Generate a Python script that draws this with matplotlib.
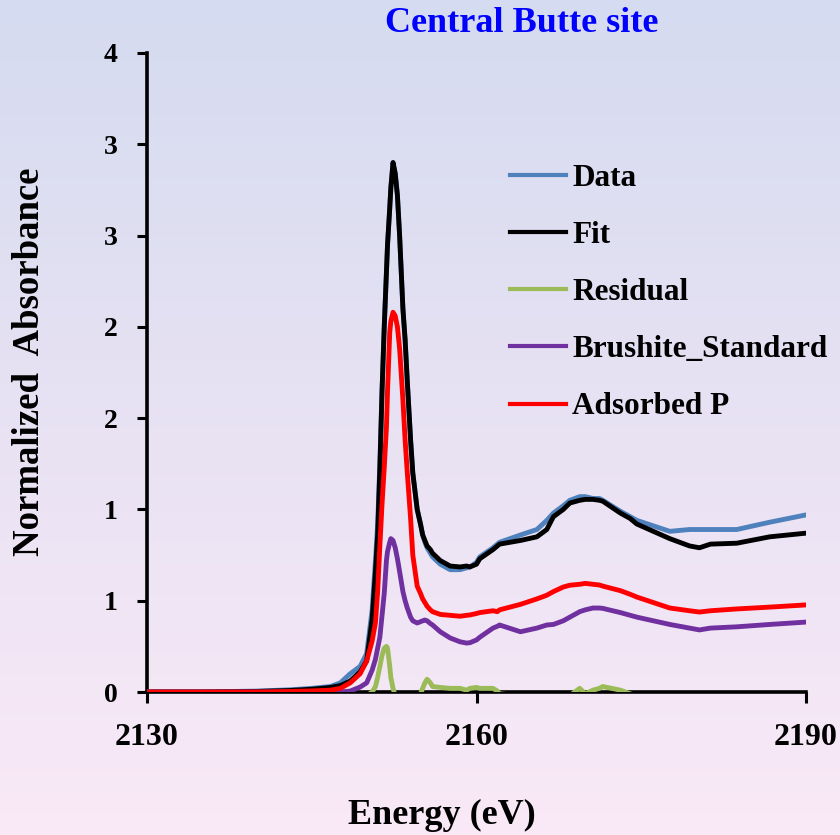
import numpy as np
import matplotlib
matplotlib.use("Agg")
import matplotlib.pyplot as plt
from matplotlib.lines import Line2D

energy = [2130, 2135, 2140, 2143, 2145, 2146.7, 2147.6, 2148.5, 2149.4, 2150.0, 2150.5, 2150.8,
          2151.0, 2151.2, 2151.4, 2151.6, 2151.8, 2151.9, 2152.1, 2152.2, 2152.4, 2152.6, 2152.8,
          2153.0, 2153.3, 2153.5, 2153.7, 2154.0, 2154.2, 2154.6, 2154.9, 2155.1, 2155.3, 2155.5,
          2155.8, 2156.0, 2156.7, 2157.6, 2158.5, 2159.1, 2159.4, 2160.0, 2160.3, 2161.5, 2161.9,
          2162.1, 2164.0, 2165.5, 2166.4, 2167.0, 2167.9, 2168.5, 2169.4, 2169.9, 2170.6, 2171.2,
          2171.5, 2173.1, 2174.0, 2174.6, 2177.6, 2179.4, 2180.3, 2181.3, 2183.7, 2186.7, 2190]

data = [0, 0, 0.005, 0.012, 0.02, 0.03, 0.05, 0.10, 0.14, 0.21, 0.45, 0.72,
        0.92, 1.25, 1.65, 2.00, 2.30, 2.45, 2.65, 2.76, 2.90, 2.84, 2.72,
        2.50, 2.10, 1.93, 1.70, 1.38, 1.20, 1.00, 0.92, 0.86, 0.82, 0.79,
        0.76, 0.74, 0.70, 0.67, 0.67, 0.68, 0.685, 0.71, 0.74, 0.79, 0.81,
        0.82, 0.86, 0.89, 0.94, 0.98, 1.02, 1.05, 1.07, 1.07, 1.06, 1.06,
        1.05, 0.99, 0.96, 0.94, 0.88, 0.89, 0.89, 0.89, 0.89, 0.93, 0.97]

fit = [0, 0, 0.003, 0.008, 0.015, 0.025, 0.035, 0.06, 0.11, 0.17, 0.40, 0.66,
       0.86, 1.22, 1.65, 2.00, 2.30, 2.45, 2.65, 2.76, 2.90, 2.84, 2.72,
       2.50, 2.10, 1.93, 1.70, 1.38, 1.20, 1.00, 0.92, 0.86, 0.83, 0.80,
       0.78, 0.76, 0.72, 0.69, 0.685, 0.69, 0.685, 0.70, 0.73, 0.78, 0.80,
       0.81, 0.83, 0.85, 0.89, 0.96, 1.00, 1.035, 1.05, 1.055, 1.055, 1.05,
       1.045, 0.98, 0.95, 0.92, 0.84, 0.80, 0.79, 0.81, 0.815, 0.85, 0.87]

residual = [-0.02, -0.02, -0.02, -0.02, -0.02, -0.02, -0.02, -0.02, -0.02, -0.02, 0.0, 0.03,
            0.08, 0.14, 0.20, 0.24, 0.25, 0.24, 0.14, 0.08, 0.02, -0.02, -0.02,
            -0.02, -0.02, -0.02, -0.02, -0.02, -0.02, -0.02, -0.01, 0.02, 0.05, 0.07,
            0.05, 0.03, 0.025, 0.02, 0.02, 0.01, 0.02, 0.025, 0.02, 0.02, 0.005,
            -0.01, -0.02, -0.02, -0.02, -0.02, -0.02, -0.02, 0.02, -0.01, 0.01, 0.02,
            0.03, 0.01, -0.01, -0.02, -0.02, -0.02, -0.02, -0.02, -0.02, -0.02, -0.02]

brushite = [0, 0, 0, 0, 0, 0, 0, 0.005, 0.027, 0.05, 0.12, 0.18,
            0.24, 0.30, 0.42, 0.54, 0.72, 0.77, 0.82, 0.84, 0.83, 0.79, 0.73,
            0.66, 0.55, 0.50, 0.46, 0.41, 0.39, 0.378, 0.385, 0.39, 0.394, 0.39,
            0.375, 0.367, 0.33, 0.296, 0.275, 0.268, 0.27, 0.285, 0.30, 0.35, 0.36,
            0.367, 0.33, 0.35, 0.367, 0.37, 0.39, 0.41, 0.44, 0.45, 0.46, 0.46,
            0.458, 0.435, 0.42, 0.41, 0.37, 0.35, 0.34, 0.35, 0.357, 0.37, 0.383]

adsorbed = [0, 0, 0, 0.003, 0.006, 0.01, 0.02, 0.05, 0.10, 0.17, 0.28, 0.38,
            0.55, 0.80, 1.03, 1.23, 1.45, 1.65, 1.97, 2.03, 2.08, 2.06, 2.00,
            1.88, 1.60, 1.38, 1.20, 0.95, 0.75, 0.58, 0.54, 0.51, 0.49, 0.47,
            0.45, 0.44, 0.425, 0.42, 0.415, 0.42, 0.422, 0.43, 0.435, 0.445, 0.44,
            0.45, 0.48, 0.51, 0.53, 0.55, 0.575, 0.585, 0.59, 0.595, 0.59, 0.586,
            0.58, 0.555, 0.535, 0.52, 0.46, 0.445, 0.438, 0.445, 0.455, 0.465, 0.477]

series_names = ["Data", "Fit", "Residual", "Brushite_Standard", "Adsorbed P"]
series_colors = ["#4f81bd", "#000000", "#9bbb59", "#7030a0", "#ff0000"]

x_ticks = [2130, 2160, 2190]
y_ticks = [0, 0.5, 1, 1.5, 2, 2.5, 3, 3.5]
y_ticklabels = ["0", "1", "1", "2", "2", "3", "3", "4"]

plt.rcParams['font.family'] = ['Liberation Serif', 'DejaVu Serif']
plt.rcParams['font.weight'] = 'bold'

W, H = 840, 835
fig = plt.figure(figsize=(W / 100, H / 100), dpi=100)

# background gradient
bg = fig.add_axes([0, 0, 1, 1], zorder=-1)
top = np.array([213, 219, 240]) / 255
bot = np.array([250, 233, 247]) / 255
t = np.linspace(0, 1, 256)[:, None]
grad = top[None, :] * (1 - t) + bot[None, :] * t
bg.imshow(grad[:, None, :], aspect='auto', extent=[0, 1, 0, 1], origin='upper')
bg.set_axis_off()

L, R = 147 / W, 806 / W
B, T = 1 - 692 / H, 1 - 53 / H
ax = fig.add_axes([L, B, R - L, T - B])
ax.set_facecolor('none')

all_series = [data, fit, residual, brushite, adsorbed]
for vals, name, col in zip(all_series, series_names, series_colors):
    ax.plot(energy, vals, color=col, lw=3.5, label=name, zorder=3,
            solid_joinstyle='round', solid_capstyle='round')

ax.set_xlim(2130, 2190)
ax.set_ylim(0, 3.5)
ax.set_xticks(x_ticks)
ax.set_xticklabels([str(v) for v in x_ticks])
ax.set_yticks(y_ticks)
ax.set_yticklabels(y_ticklabels)
for s in ['top', 'right']:
    ax.spines[s].set_visible(False)
for s in ['left', 'bottom']:
    ax.spines[s].set_linewidth(2.6)
    ax.spines[s].set_zorder(2.5)
ax.tick_params(axis='x', length=8, width=2.2, pad=14, labelsize=23, direction='out')
ax.tick_params(axis='y', length=7, width=2.2, pad=14, labelsize=20, direction='out')
for lab in ax.get_xticklabels() + ax.get_yticklabels():
    lab.set_fontweight('bold')

handles = [Line2D([0], [0], color=c, lw=3) for c in series_colors]
leg = fig.legend(handles, series_names, loc='upper left',
                 bbox_to_anchor=(510 / W, 1 - 164 / H), frameon=False,
                 prop={'size': 22.5, 'weight': 'bold'}, handlelength=1.8,
                 handletextpad=0.2, labelspacing=0.9, borderaxespad=0, borderpad=0)

fig.text(522 / W, 1 - 23 / H, "Central Butte site", color='#0000ff', fontsize=26,
         fontweight='bold', ha='center', va='center')
fig.text(442 / W, 1 - 815 / H, "Energy (eV)", color='black', fontsize=26,
         fontweight='bold', ha='center', va='center')
fig.text(30 / W, 1 - 362 / H, "Normalized  Absorbance", color='black', fontsize=26.5,
         fontweight='bold', ha='center', va='center', rotation=90)

fig.savefig("out.png", dpi=100)
